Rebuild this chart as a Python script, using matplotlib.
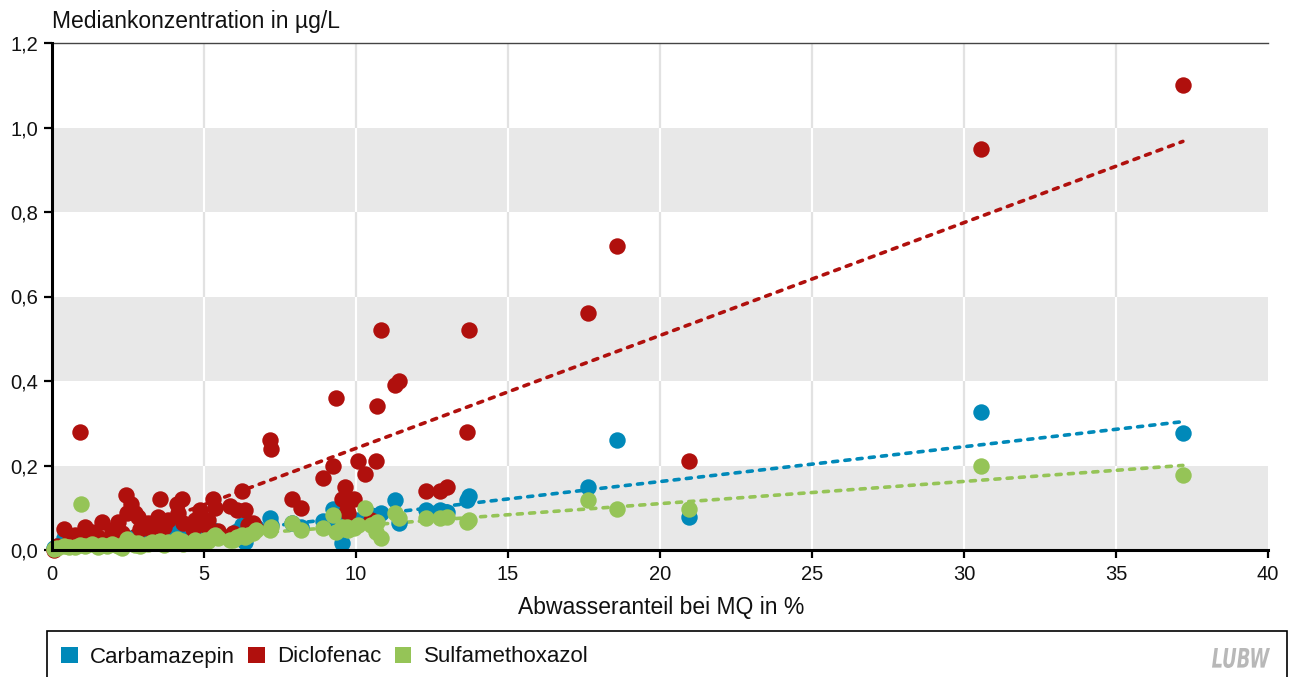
import numpy as np
import matplotlib
matplotlib.use("Agg")
import matplotlib.pyplot as plt
from matplotlib.patches import Patch, Rectangle, PathPatch
from matplotlib.textpath import TextPath
from matplotlib.font_manager import FontProperties
from matplotlib.transforms import Affine2D, IdentityTransform

# Abwasseranteil bei MQ (%) je Messstelle
abwasseranteil = [
    0.05, 0.15, 0.40, 0.55, 0.76, 0.92, 0.95, 1.10, 1.30, 1.50,
    1.64, 1.80, 1.97, 2.17, 2.30, 2.43, 2.47, 2.60, 2.73, 2.83,
    2.90, 3.16, 3.30, 3.50, 3.55, 3.70, 3.80, 4.10, 4.14, 4.28,
    4.30, 4.64, 4.70, 4.87, 5.03, 5.13, 5.30, 5.36, 5.46, 5.85,
    5.95, 6.10, 6.25, 6.35, 6.45, 6.60, 6.70, 7.17, 7.20, 7.90,
    8.20, 8.90, 9.25, 9.35, 9.55, 9.65, 9.70, 9.75, 9.95, 10.07,
    10.30, 10.50, 10.66, 10.70, 10.82, 11.28, 11.40, 12.30, 12.76, 13.00,
    13.65, 13.72, 17.63, 18.59, 20.95, 30.55, 37.20,
]

# Medianwerte in µg/L
carbamazepin = [
    0.005, 0.010, 0.028, 0.015, 0.020, 0.015, 0.020, 0.012, 0.018, 0.010,
    0.020, 0.015, 0.025, 0.018, 0.012, 0.030, 0.022, 0.020, 0.015, 0.025,
    0.020, 0.018, 0.030, 0.022, 0.025, 0.015, 0.028, 0.047, 0.030, 0.025,
    0.020, 0.022, 0.030, 0.025, 0.030, 0.028, 0.047, 0.040, 0.040, 0.030,
    0.035, 0.045, 0.059, 0.019, 0.050, 0.045, 0.055, 0.076, 0.060, 0.063,
    0.055, 0.068, 0.097, 0.060, 0.017, 0.070, 0.075, 0.065, 0.060, 0.070,
    0.078, 0.083, 0.070, 0.080, 0.088, 0.118, 0.064, 0.095, 0.095, 0.090,
    0.118, 0.128, 0.148, 0.260, 0.078, 0.327, 0.277,
]

diclofenac = [
    0.000, 0.010, 0.050, 0.020, 0.036, 0.280, 0.030, 0.054, 0.043, 0.030,
    0.066, 0.020, 0.047, 0.066, 0.040, 0.130, 0.087, 0.110, 0.087, 0.078,
    0.050, 0.063, 0.045, 0.078, 0.120, 0.055, 0.071, 0.110, 0.087, 0.120,
    0.063, 0.050, 0.071, 0.095, 0.060, 0.071, 0.120, 0.100, 0.045, 0.105,
    0.040, 0.095, 0.140, 0.095, 0.060, 0.063, 0.050, 0.260, 0.240, 0.120,
    0.100, 0.170, 0.200, 0.360, 0.120, 0.150, 0.095, 0.088, 0.120, 0.210,
    0.180, 0.070, 0.210, 0.340, 0.520, 0.390, 0.400, 0.140, 0.140, 0.150,
    0.280, 0.520, 0.560, 0.720, 0.210, 0.950, 1.100,
]

sulfamethoxazol = [
    0.003, 0.005, 0.010, 0.008, 0.006, 0.012, 0.110, 0.010, 0.015, 0.008,
    0.012, 0.010, 0.014, 0.010, 0.005, 0.020, 0.025, 0.018, 0.012, 0.016,
    0.010, 0.014, 0.020, 0.018, 0.022, 0.012, 0.020, 0.025, 0.019, 0.022,
    0.015, 0.019, 0.024, 0.020, 0.024, 0.022, 0.030, 0.035, 0.028, 0.024,
    0.024, 0.030, 0.036, 0.030, 0.036, 0.040, 0.047, 0.047, 0.055, 0.063,
    0.047, 0.052, 0.083, 0.043, 0.055, 0.050, 0.054, 0.048, 0.052, 0.058,
    0.099, 0.060, 0.043, 0.066, 0.028, 0.088, 0.076, 0.076, 0.076, 0.078,
    0.066, 0.070, 0.118, 0.097, 0.097, 0.199, 0.178,
]

series = [
    ("Carbamazepin", carbamazepin, "#0089b9"),
    ("Diclofenac", diclofenac, "#b0100d"),
    ("Sulfamethoxazol", sulfamethoxazol, "#95c457"),
]

x_ticks = [0, 5, 10, 15, 20, 25, 30, 35, 40]
y_ticks = [0.0, 0.2, 0.4, 0.6, 0.8, 1.0, 1.2]
y_tick_labels = ["0,0", "0,2", "0,4", "0,6", "0,8", "1,0", "1,2"]

W, H = 1292, 677
fig = plt.figure(figsize=(W / 100, H / 100), dpi=100)
plt.rcParams["font.family"] = ["Liberation Sans", "DejaVu Sans"]

ax = fig.add_axes([52 / W, 1 - 550 / H, (1268 - 52) / W, (550 - 43) / H])
ax.set_xlim(0, 40)
ax.set_ylim(0, 1.2)

# alternating horizontal bands
band_grey = "#e8e8e8"
for lo in (0.0, 0.4, 0.8):
    ax.axhspan(lo, lo + 0.2, color=band_grey, lw=0, zorder=0)

# vertical grid: grey on white bands, white on grey bands
for xv in x_ticks[1:-1]:
    ax.plot([xv, xv], [0, 1.2], color="#e2e2e2", lw=1.6, zorder=0.5,
            solid_capstyle="butt")
    for lo in (0.0, 0.4, 0.8):
        ax.plot([xv, xv], [lo, lo + 0.2], color="white", lw=1.6, zorder=0.6,
                solid_capstyle="butt")

# linear trend per substance
xs = np.array(abwasseranteil)
x_line = np.array([0.0, xs.max()])
for name, vals, col in series:
    slope, icpt = np.polyfit(xs, np.array(vals), 1)
    ax.plot(x_line, slope * x_line + icpt, color=col, lw=2.6,
            dashes=(1.4, 2.0), dash_capstyle="round", zorder=1.5)

for i, (name, vals, col) in enumerate(series):
    ax.scatter(xs, vals, s=140, color=col, linewidths=0, zorder=2 + i,
               clip_on=False)

# axes frame
for side in ("left", "bottom"):
    ax.spines[side].set_linewidth(2.2)
    ax.spines[side].set_color("black")
    ax.spines[side].set_zorder(6)
ax.spines["right"].set_visible(False)
ax.spines["top"].set_linewidth(1.0)
ax.spines["top"].set_color("#444444")

ax.set_xticks(x_ticks)
ax.set_xticklabels([str(t) for t in x_ticks])
ax.set_yticks(y_ticks)
ax.set_yticklabels(y_tick_labels)
ax.tick_params(axis="both", direction="out", length=6, width=1.6,
               color="black", labelsize=14.5, labelcolor="#111111")
ax.tick_params(axis="x", pad=5)
ax.tick_params(axis="y", pad=4)

fig.text(52 / W, 1 - 28 / H, "Mediankonzentration in µg/L", fontsize=16.5,
         color="#111111", ha="left", va="baseline")
fig.text(661 / W, 1 - 614 / H, "Abwasseranteil bei MQ in %", fontsize=16.5,
         color="#111111", ha="center", va="baseline")

# legend frame (open at the bottom edge)
fig.patches.append(Rectangle((47 / W, -0.05), (1287 - 47) / W, 0.05 + 1 - 631 / H,
                             transform=fig.transFigure, fill=False,
                             edgecolor="black", lw=1.2))
handles = [Patch(facecolor=c, edgecolor="none", label=n) for n, _, c in series]
fig.legend(handles=handles, loc="center left",
           bbox_to_anchor=(61 / W, 1 - 657 / H), ncol=3, frameon=False,
           fontsize=16, handlelength=0.75, handleheight=0.75,
           handletextpad=0.55, columnspacing=0.6, borderpad=0,
           borderaxespad=0, labelcolor="#111111")

# condensed italic logo, scaled into its box (pixel coordinates)
logo = TextPath((0, 0), "LUBW", size=20,
                prop=FontProperties(family="DejaVu Sans", weight="bold",
                                    style="italic"))
bb = logo.get_extents()
box_x0, box_y0, box_w, box_h = 1212, H - 668, 58, 20
tr = (Affine2D().translate(-bb.x0, -bb.y0)
      .scale(box_w / bb.width, box_h / bb.height)
      .translate(box_x0, box_y0))
fig.patches.append(PathPatch(logo, transform=tr + IdentityTransform(),
                             facecolor="#b8b8b8", edgecolor="none"))

fig.savefig("out.png", dpi=100)
